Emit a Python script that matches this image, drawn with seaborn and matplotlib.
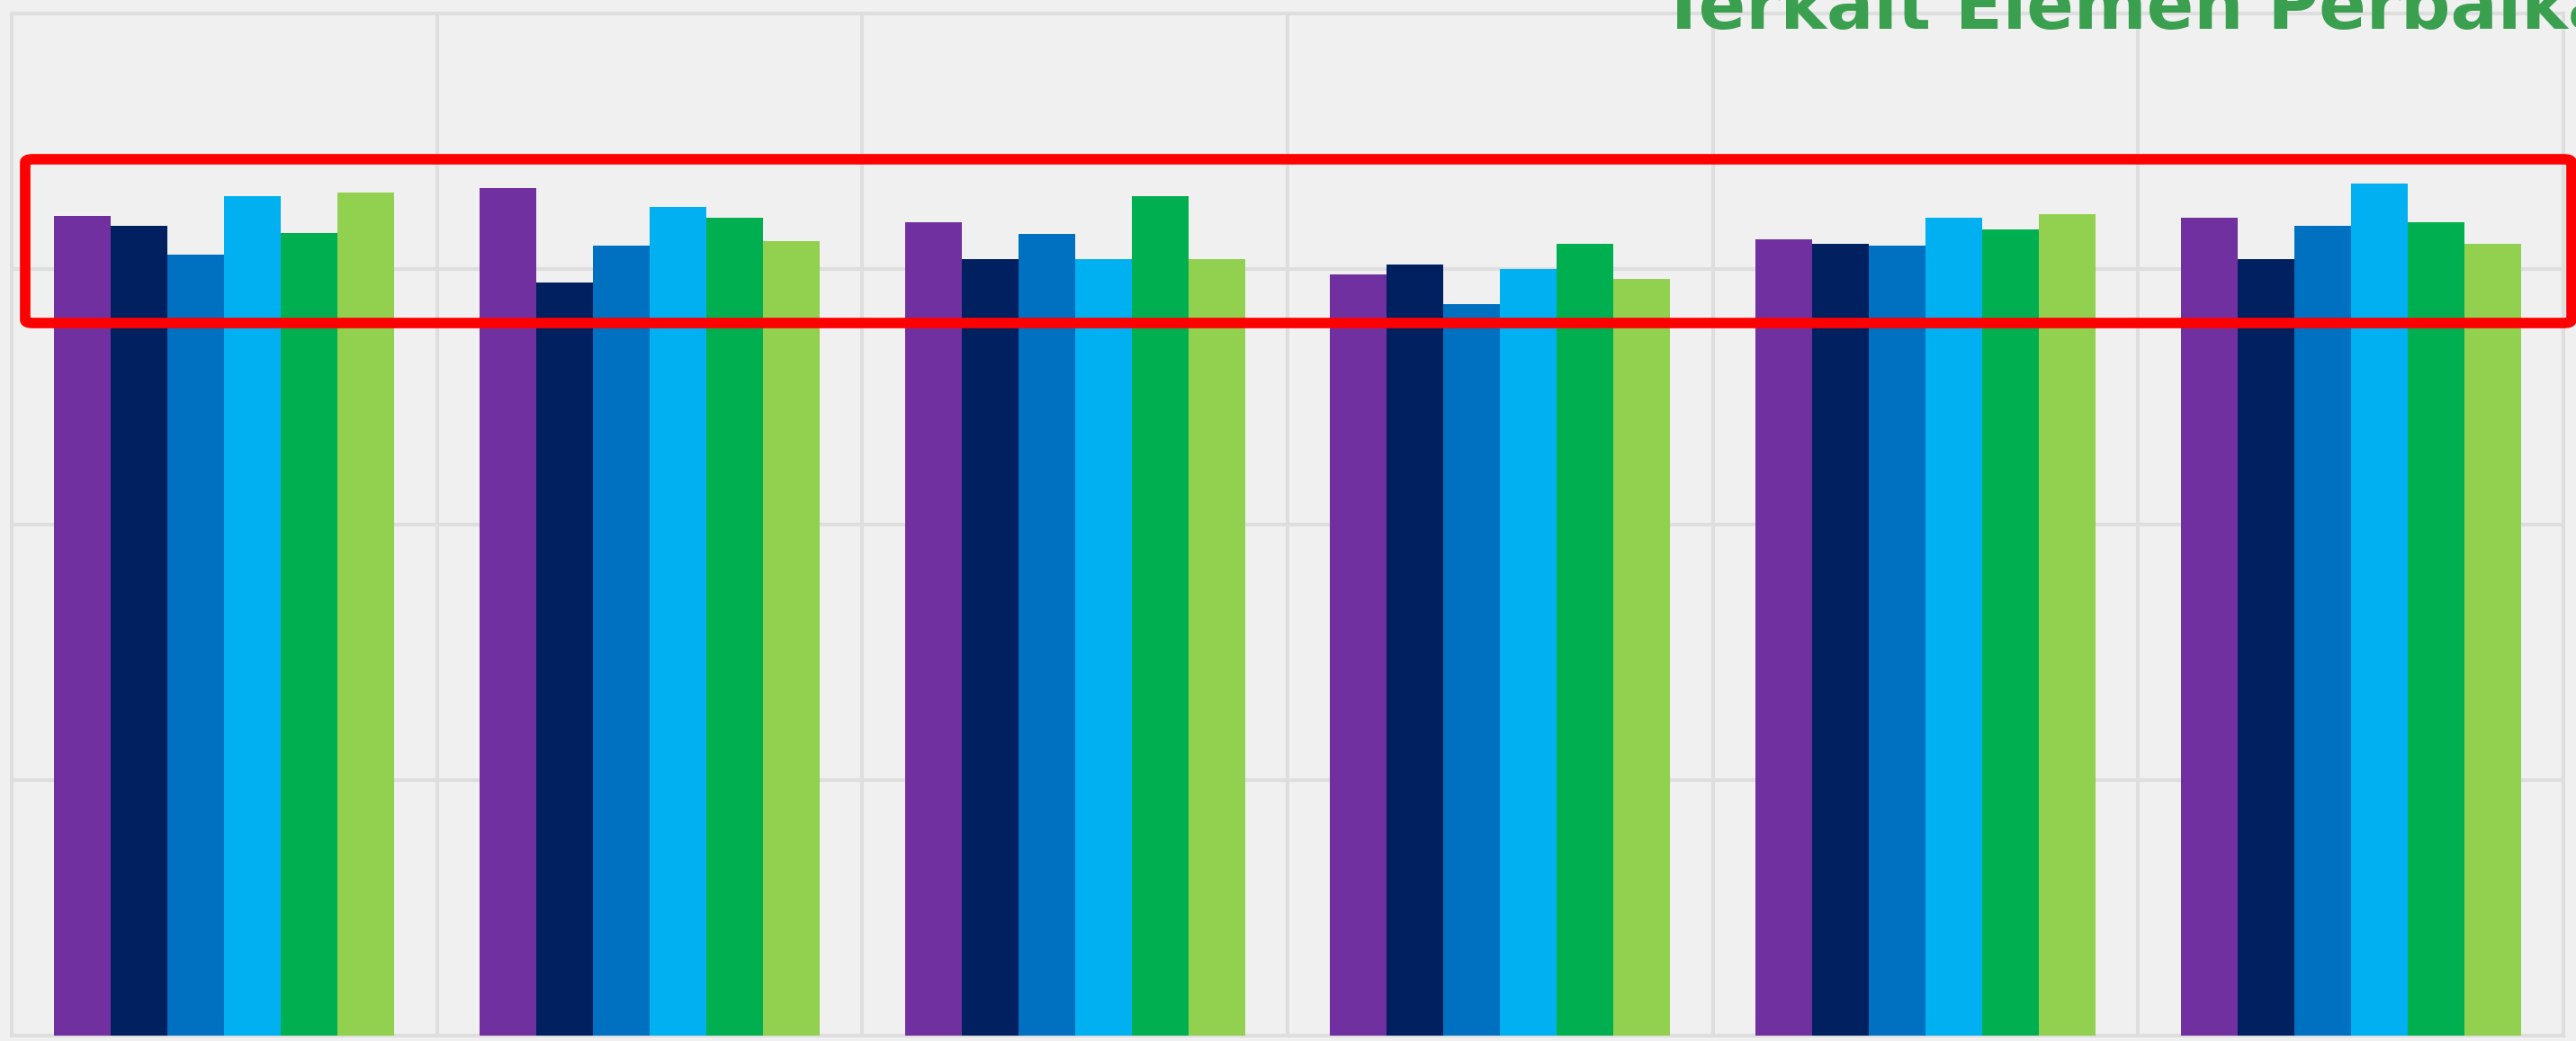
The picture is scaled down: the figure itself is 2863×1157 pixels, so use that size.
import numpy as np
import pandas as pd
import seaborn as sns
import matplotlib
matplotlib.use("Agg")
import matplotlib.pyplot as plt
from matplotlib.patches import FancyBboxPatch

# ---------------- data ----------------
categories = ["Elemen 1", "Elemen 2", "Elemen 3", "Elemen 4", "Elemen 5", "Elemen 6"]
series = ["Seri 1", "Seri 2", "Seri 3", "Seri 4", "Seri 5", "Seri 6"]
seri1 = [80.2, 82.9, 79.6, 74.5, 77.9, 80.0]
seri2 = [79.2, 73.7, 76.0, 75.4, 77.5, 76.0]
seri3 = [76.4, 77.3, 78.4, 71.6, 77.3, 79.2]
seri4 = [82.1, 81.1, 76.0, 75.0, 80.0, 83.4]
seri5 = [78.5, 80.0, 82.1, 77.5, 78.9, 79.6]
seri6 = [82.5, 77.7, 76.0, 74.0, 80.4, 77.5]
colors = ["#7030A0", "#002060", "#0070C0", "#00B0F0", "#00B050", "#92D050"]
title_text = "Terkait Elemen Perbaikan"

rows = []
for s, vals in zip(series, [seri1, seri2, seri3, seri4, seri5, seri6]):
    for c, v in zip(categories, vals):
        rows.append({"kategori": c, "seri": s, "nilai": v})
df = pd.DataFrame(rows)

# ---------------- figure ----------------
W, H, DPI = 2863, 1157, 100
sns.set_theme(style="whitegrid")
plt.rcParams["font.family"] = ["DejaVu Sans"]
bg = "#f0f0f0"
grid_c = "#dedede"

fig = plt.figure(figsize=(W / DPI, H / DPI), dpi=DPI, facecolor=bg)
ax = fig.add_axes([13 / W, (H - 1151) / H, (2849 - 13) / W, (1151 - 15) / H])
ax.set_facecolor(bg)

sns.barplot(data=df, x="kategori", y="nilai", hue="seri", order=categories,
            hue_order=series, palette=colors, saturation=1, width=0.8,
            legend=False, ax=ax, linewidth=0, errorbar=None, zorder=3)

ax.set_xlim(-0.5, len(categories) - 0.5)
ax.set_ylim(0, 100)
ax.set_xticks(np.arange(-0.5, len(categories), 1.0))
ax.set_yticks([0, 25, 50, 75, 100])
ax.set_xticklabels([])
ax.set_yticklabels([])
ax.tick_params(length=0)
ax.set_xlabel("")
ax.set_ylabel("")
ax.grid(True, which="major", axis="both", color=grid_c, linewidth=2.9, zorder=0)
ax.set_axisbelow(True)
for sp in ax.spines.values():
    sp.set_color(grid_c)
    sp.set_linewidth(2.9)

# title (cut at top of the image) - size it so that "Terkait " spans ~328 px
renderer = fig.canvas.get_renderer()
fs = 54.0
for _ in range(3):
    t1 = fig.text(0, 0, "Terkait E", fontsize=fs, fontweight="bold")
    t2 = fig.text(0, 0, "E", fontsize=fs, fontweight="bold")
    wdt = t1.get_window_extent(renderer).width - t2.get_window_extent(renderer).width
    t1.remove(); t2.remove()
    fs = fs * 328.0 / wdt
fig.text(1845 / W, (H - 32) / H, title_text, color="#3a9f4f", fontsize=fs,
         fontweight="bold", ha="left", va="baseline")

# red highlight box
x0, x1 = 28, 2858
y0, y1 = 177, 359
box = FancyBboxPatch((x0 / W, (H - y1) / H), (x1 - x0) / W, (y1 - y0) / H,
                     boxstyle="round,pad=0,rounding_size=0.003",
                     transform=fig.transFigure, fill=False, edgecolor="#ff0000",
                     linewidth=8.4, joinstyle="round", clip_on=False, zorder=10)
fig.patches.append(box)

fig.savefig("out.png", dpi=DPI, facecolor=bg)
